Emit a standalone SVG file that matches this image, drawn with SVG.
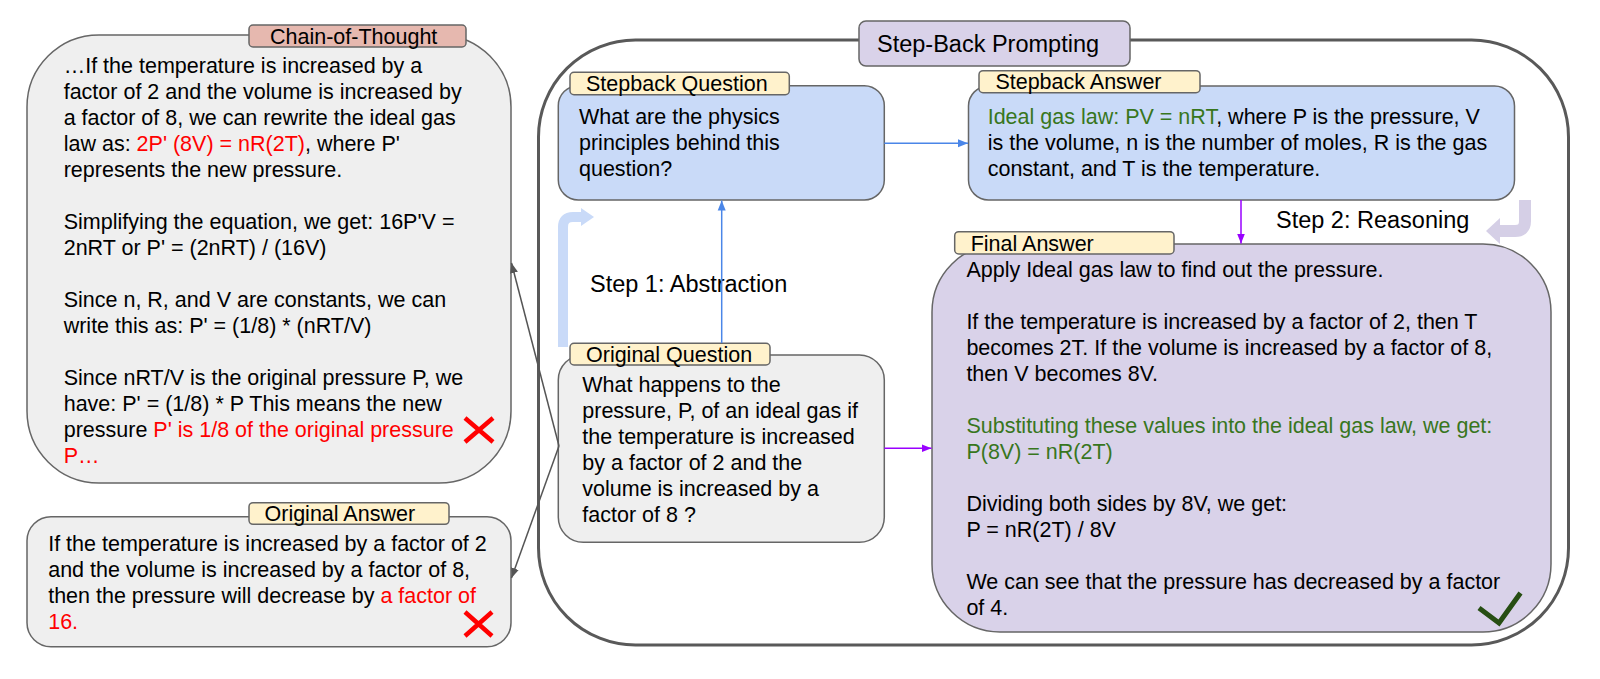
<svg xmlns="http://www.w3.org/2000/svg" width="1600" height="679" viewBox="0 0 1600 679">
<defs>
<style>
text{font-family:"Liberation Sans",Arial,sans-serif;font-size:21.5px;fill:#000}
.big{font-size:23.5px}
.red{fill:#ff0000}
.grn{fill:#38761d}
.gbox{fill:#efefef;stroke:#666;stroke-width:1.5}
.bbox{fill:#c9daf8;stroke:#666;stroke-width:1.5}
.pbox{fill:#d9d2e9;stroke:#666;stroke-width:1.5}
.ylab{fill:#fff2cc;stroke:#666;stroke-width:1.5}
.rlab{fill:#e6b8af;stroke:#666;stroke-width:1.5}
.xmark{stroke:#ff0000;stroke-width:4.5;fill:none}
</style>
<marker id="ab" viewBox="0 0 10 10" refX="10" refY="5" markerWidth="10" markerHeight="10" markerUnits="userSpaceOnUse" orient="auto"><path d="M0,1 L10,5 L0,9 z" fill="#4a86e8"/></marker>
<marker id="ap" viewBox="0 0 10 10" refX="10" refY="5" markerWidth="10" markerHeight="10" markerUnits="userSpaceOnUse" orient="auto"><path d="M0,1 L10,5 L0,9 z" fill="#9900ff"/></marker>
<marker id="ag" viewBox="0 0 10 10" refX="10" refY="5" markerWidth="10" markerHeight="10" markerUnits="userSpaceOnUse" orient="auto"><path d="M0,1 L10,5 L0,9 z" fill="#555"/></marker>
</defs>
<rect width="1600" height="679" fill="#fff"/>

<g id="step-back-prompting">
<rect x="538.5" y="40" width="1030" height="605" rx="97" fill="none" stroke="#595959" stroke-width="3"/>
<rect x="859" y="21" width="271" height="45" rx="7" class="pbox"/>
<text x="877" y="52.3" class="big">Step-Back Prompting</text>
</g>

<g id="bands">
<path d="M563,347 L563,227 Q563,217 573,217 L582,217" fill="none" stroke="#c9daf8" stroke-width="10"/>
<polygon points="581,208 594,217 581,226" fill="#c9daf8"/>
<path d="M1525,200 L1525,221 Q1525,231 1515,231 L1499,231" fill="none" stroke="#d5cfe6" stroke-width="12"/>
<polygon points="1500,218 1486,231 1500,244" fill="#d5cfe6"/>
</g>

<g id="chain-of-thought">
<rect x="27" y="35" width="484" height="448" rx="72" class="gbox"/>
<rect x="249" y="25" width="217" height="22" rx="4" class="rlab"/>
<text x="270" y="44">Chain-of-Thought</text>
<text x="63.7" y="72.5">…If the temperature is increased by a</text>
<text x="63.7" y="98.5">factor of 2 and the volume is increased by</text>
<text x="63.7" y="124.5">a factor of 8, we can rewrite the ideal gas</text>
<text x="63.7" y="150.5">law as: <tspan class="red">2P' (8V) = nR(2T)</tspan>, where P'</text>
<text x="63.7" y="176.5">represents the new pressure.</text>
<text x="63.7" y="228.5">Simplifying the equation, we get: 16P'V =</text>
<text x="63.7" y="254.5">2nRT or P' = (2nRT) / (16V)</text>
<text x="63.7" y="306.5">Since n, R, and V are constants, we can</text>
<text x="63.7" y="332.5">write this as: P' = (1/8) * (nRT/V)</text>
<text x="63.7" y="384.5">Since nRT/V is the original pressure P, we</text>
<text x="63.7" y="410.5">have: P' = (1/8) * P This means the new</text>
<text x="63.7" y="436.5">pressure <tspan class="red">P' is 1/8 of the original pressure</tspan></text>
<text x="63.7" y="462.5" class="red">P…</text>
<path d="M465,418 L493,442 M493,418 L465,442" class="xmark"/>
</g>

<g id="original-answer">
<rect x="27" y="516.7" width="484" height="130" rx="24" class="gbox"/>
<rect x="249" y="502.7" width="200" height="21.6" rx="4" class="ylab"/>
<text x="264.5" y="520.7">Original Answer</text>
<text x="48.2" y="550.7">If the temperature is increased by a factor of 2</text>
<text x="48.2" y="576.7">and the volume is increased by a factor of 8,</text>
<text x="48.2" y="602.7">then the pressure will decrease by <tspan class="red">a factor of</tspan></text>
<text x="48.2" y="628.7" class="red">16.</text>
<path d="M465,612 L492,636 M492,612 L465,636" class="xmark"/>
</g>

<g id="stepback-question">
<rect x="558.3" y="85.7" width="326" height="114.3" rx="20" class="bbox"/>
<rect x="570" y="72.3" width="219.3" height="22.4" rx="4" class="ylab"/>
<text x="586" y="91">Stepback Question</text>
<text x="579" y="124.3">What are the physics</text>
<text x="579" y="150.3">principles behind this</text>
<text x="579" y="176.3">question?</text>
</g>

<g id="stepback-answer">
<rect x="968.5" y="86" width="546" height="114" rx="20" class="bbox"/>
<rect x="979" y="70.7" width="221" height="22" rx="4" class="ylab"/>
<text x="995.4" y="89.3">Stepback Answer</text>
<text x="987.7" y="124"><tspan class="grn">Ideal gas law: PV = nRT</tspan>, where P is the pressure, V</text>
<text x="987.7" y="150">is the volume, n is the number of moles, R is the gas</text>
<text x="987.7" y="176">constant, and T is the temperature.</text>
</g>

<g id="original-question">
<rect x="558.3" y="355" width="326" height="187.3" rx="25" class="gbox"/>
<rect x="570" y="343.3" width="200" height="21.7" rx="4" class="ylab"/>
<text x="586" y="362">Original Question</text>
<text x="582.3" y="391.7">What happens to the</text>
<text x="582.3" y="417.7">pressure, P, of an ideal gas if</text>
<text x="582.3" y="443.7">the temperature is increased</text>
<text x="582.3" y="469.7">by a factor of 2 and the</text>
<text x="582.3" y="495.7">volume is increased by a</text>
<text x="582.3" y="521.7">factor of 8 ?</text>
</g>

<g id="final-answer">
<rect x="932" y="244" width="619" height="388" rx="68" class="pbox"/>
<rect x="954.7" y="231.7" width="219.3" height="22.3" rx="4" class="ylab"/>
<text x="970.7" y="250.7">Final Answer</text>
<text x="966.4" y="277">Apply Ideal gas law to find out the pressure.</text>
<text x="966.4" y="329">If the temperature is increased by a factor of 2, then T</text>
<text x="966.4" y="355">becomes 2T. If the volume is increased by a factor of 8,</text>
<text x="966.4" y="381">then V becomes 8V.</text>
<text x="966.4" y="433" class="grn">Substituting these values into the ideal gas law, we get:</text>
<text x="966.4" y="459" class="grn">P(8V) = nR(2T)</text>
<text x="966.4" y="511">Dividing both sides by 8V, we get:</text>
<text x="966.4" y="537">P = nR(2T) / 8V</text>
<text x="966.4" y="589">We can see that the pressure has decreased by a factor</text>
<text x="966.4" y="615">of 4.</text>
<path d="M1479,608 L1499,623 L1520.5,593" fill="none" stroke="#274e13" stroke-width="5"/>
</g>

<g id="step-labels">
<text x="590" y="291.7" class="big">Step 1: Abstraction</text>
<text x="1276" y="227.7" class="big">Step 2: Reasoning</text>
</g>

<g id="connectors" fill="none">
<line x1="721.7" y1="343" x2="721.7" y2="200.5" stroke="#4a86e8" stroke-width="1.5" marker-end="url(#ab)"/>
<line x1="884.3" y1="143.3" x2="968" y2="143.3" stroke="#4a86e8" stroke-width="1.5" marker-end="url(#ab)"/>
<line x1="1241" y1="200" x2="1241" y2="243.5" stroke="#9900ff" stroke-width="1.5" marker-end="url(#ap)"/>
<line x1="884.3" y1="448.3" x2="931.5" y2="448.3" stroke="#9900ff" stroke-width="1.5" marker-end="url(#ap)"/>
<line x1="559" y1="446" x2="511.5" y2="263" stroke="#555" stroke-width="1.5" marker-end="url(#ag)"/>
<line x1="559" y1="446" x2="511.5" y2="578" stroke="#555" stroke-width="1.5" marker-end="url(#ag)"/>
</g>
</svg>
